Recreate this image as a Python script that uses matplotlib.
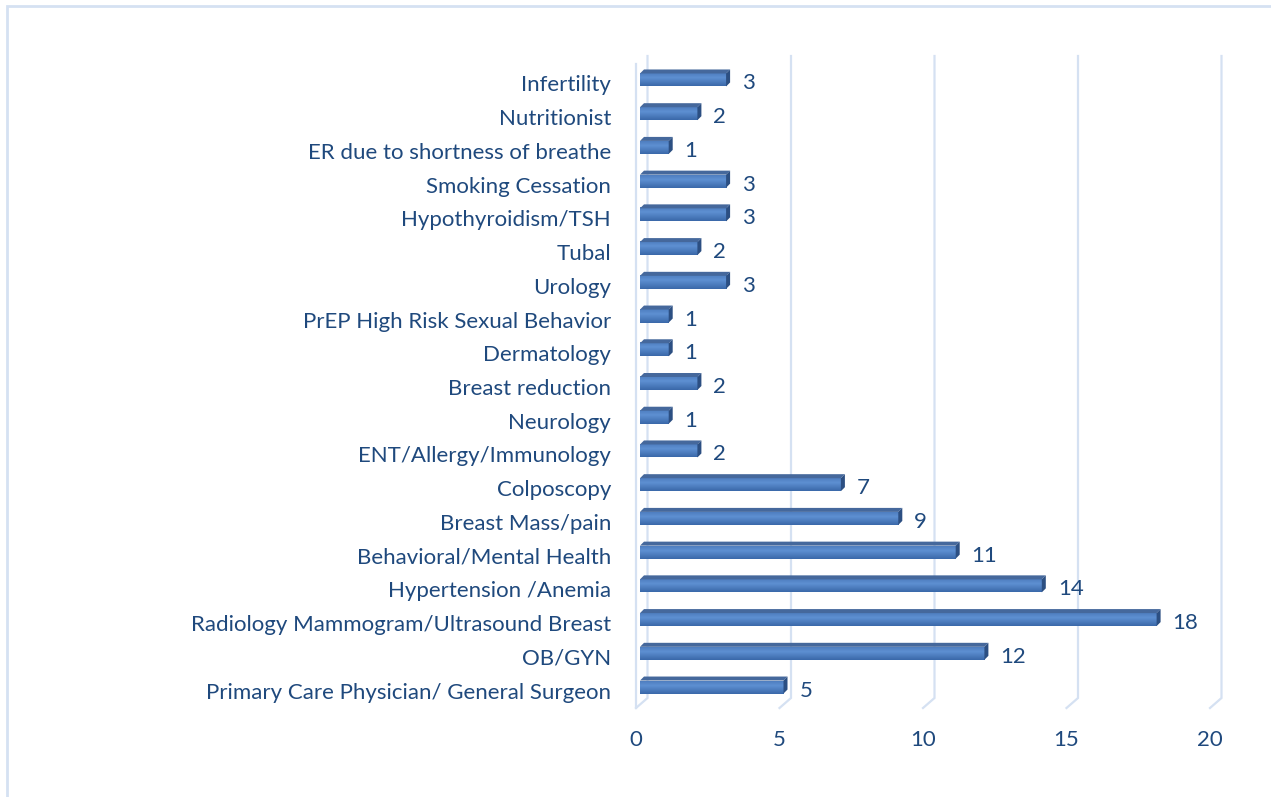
"""Referral counts by specialty, Excel-style 3D horizontal bars."""

import matplotlib
matplotlib.use("Agg")
import matplotlib.pyplot as plt
import numpy as np
from matplotlib.patches import Polygon, Rectangle
from matplotlib.transforms import ScaledTranslation

# data, bottom to top
categories = [
    "Primary Care Physician/ General Surgeon",
    "OB/GYN",
    "Radiology Mammogram/Ultrasound Breast",
    "Hypertension /Anemia",
    "Behavioral/Mental Health",
    "Breast Mass/pain",
    "Colposcopy",
    "ENT/Allergy/Immunology",
    "Neurology",
    "Breast reduction",
    "Dermatology",
    "PrEP High Risk Sexual Behavior",
    "Urology",
    "Tubal",
    "Hypothyroidism/TSH",
    "Smoking Cessation",
    "ER due to shortness of breathe",
    "Nutritionist",
    "Infertility",
]
counts = [5, 12, 18, 14, 11, 9, 7, 2, 1, 2, 1, 1, 3, 2, 3, 3, 1, 2, 3]
xticks = [0, 5, 10, 15, 20]

TEXT = "#1F497D"
GRID = "#D5E1F2"
FONT = "Lato"
FS = 16

W, H = 1271, 797
fig = plt.figure(figsize=(W / 100, H / 100), dpi=100)

# axes placed in pixels: front plane of bars
left_px, right_px = 640, 1214
top_px, bot_px = 63.1, 703.9
ax = fig.add_axes([left_px / W, 1 - bot_px / H,
                   (right_px - left_px) / W, (bot_px - top_px) / H])
ax.set_xlim(0, 20)
ax.set_ylim(-0.5, len(categories) - 0.5)
ax.axis("off")

px_x = (right_px - left_px) / 20.0          # pixels per unit
px_y = (bot_px - top_px) / len(categories)  # pixels per category

# border of the chart area
fig.patches.append(Rectangle((7 / W, -0.01), 1.0, 1 - 6 / H + 0.01,
                             transform=fig.transFigure, fill=False,
                             ec=GRID, lw=2.0))


def px_off(dx, dy):
    # offset in pixels, dy positive = down
    return ScaledTranslation(dx / 100, -dy / 100, fig.dpi_scale_trans)


# gridlines on the back wall, with floor diagonal
y_top_g = len(categories) - 0.5 + (top_px - 56) / px_y
y_bot_g = -0.5 + (bot_px - 698) / px_y
y_floor = -0.5 - (708 - bot_px) / px_y
for v in xticks:
    xb = v + 7.5 / px_x
    xf = v - 4 / px_x
    ax.plot([xb, xb, xf], [y_top_g, y_bot_g, y_floor], color=GRID, lw=1.6,
            clip_on=False, zorder=1, solid_joinstyle="miter")
# front edge of left wall
ax.plot([-4 / px_x] * 2,
        [len(categories) - 0.5 - (64 - top_px) / px_y, y_floor],
        color=GRID, lw=1.6, clip_on=False, zorder=1)

# bars
half = 6.5 / px_y
dx = 4.0 / px_x
dy = 4.0 / px_y
c_top = np.array([0x4E, 0x7E, 0xC0]) / 255
c_mid = np.array([0x5E, 0x90, 0xD2]) / 255
c_bot = np.array([0x3A, 0x68, 0xA9]) / 255
cols = np.empty((64, 1, 3))
for k, t in enumerate(np.linspace(0, 1, 64)):
    if t < 0.35:
        c = c_top + (c_mid - c_top) * (t / 0.35)
    else:
        c = c_mid + (c_bot - c_mid) * ((t - 0.35) / 0.65)
    cols[k, 0] = c

for i, (cat, val) in enumerate(zip(categories, counts)):
    y0 = i - half
    y1 = i + half
    # front face with vertical gradient
    ax.imshow(cols, extent=[0, val, y0, y1], aspect="auto",
              origin="upper", zorder=3, interpolation="bilinear")
    # top face
    ax.add_patch(Polygon([(0, y1), (val, y1), (val + dx, y1 + dy), (dx, y1 + dy)],
                         closed=True, fc="#45689C", ec="none", zorder=3))
    # right side face
    ax.add_patch(Polygon([(val, y0), (val, y1), (val + dx, y1 + dy), (val + dx, y0 + dy)],
                         closed=True, fc="#2C4F82", ec="none", zorder=3))
    # value label
    ax.text(val, i, str(val), transform=ax.transData + px_off(16, 9.5),
            ha="left", va="baseline", fontsize=FS, color=TEXT, family=FONT)
    # category label
    ax.text(0, i, cat, transform=ax.transData + px_off(-29, 11.5),
            ha="right", va="baseline", fontsize=FS, color=TEXT, family=FONT)

# x tick labels
for v in xticks:
    ax.text(v, -0.5, str(v), transform=ax.transData + px_off(-4, 746 - bot_px),
            ha="center", va="baseline", fontsize=FS, color=TEXT, family=FONT)

fig.savefig("out.png", dpi=100)
